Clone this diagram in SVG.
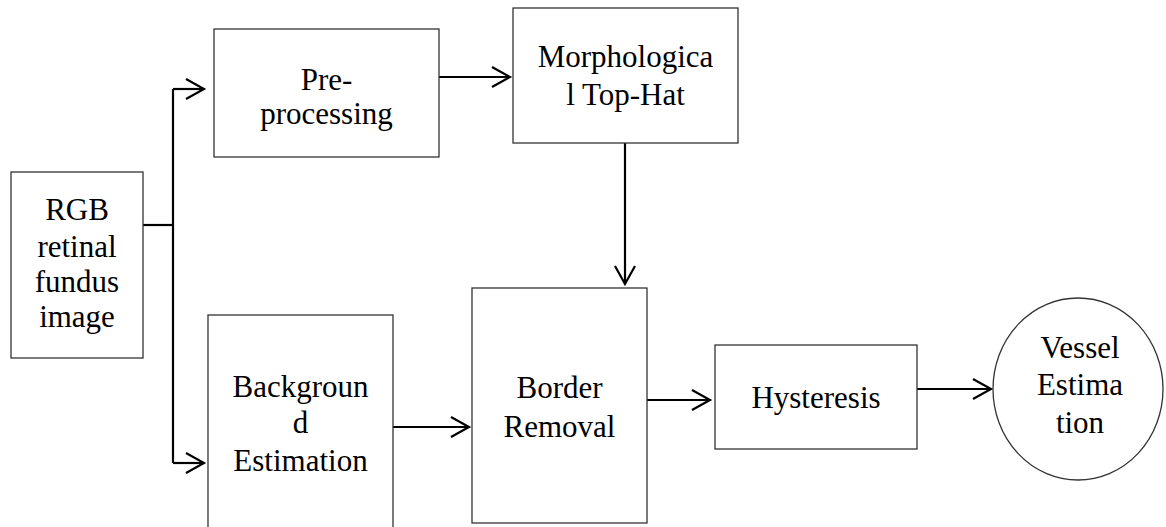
<svg xmlns="http://www.w3.org/2000/svg" width="1166" height="527" viewBox="0 0 1166 527">
<style>
.box{fill:#fff;stroke:#333;stroke-width:1.3}
.t{font-family:"Liberation Serif","Times New Roman",serif;font-size:31px;fill:#000;text-anchor:middle}
.c{fill:none;stroke:#000;stroke-width:2.2}
</style>
<defs>
<marker id="ah" markerUnits="userSpaceOnUse" markerWidth="24" markerHeight="26" refX="19" refY="11" orient="auto">
<path d="M1,1 L19,11 L1,21" fill="none" stroke="#000" stroke-width="2.2"/>
</marker>
</defs>
<rect width="1166" height="527" fill="#fff"/>
<g id="connectors">
<path class="c" d="M143,225 H173"/>
<path class="c" d="M173,89 V463"/>
<path class="c" d="M173,89 H204" marker-end="url(#ah)"/>
<path class="c" d="M173,463 H204" marker-end="url(#ah)"/>
<path class="c" d="M439,77 H510" marker-end="url(#ah)"/>
<path class="c" d="M625,143 V284" marker-end="url(#ah)"/>
<path class="c" d="M393,427 H469" marker-end="url(#ah)"/>
<path class="c" d="M647,400 H710" marker-end="url(#ah)"/>
<path class="c" d="M917,389 H991" marker-end="url(#ah)"/>
</g>
<g id="rgb">
<rect class="box" x="11" y="172" width="132" height="186"/>
<text class="t" x="77" y="220">RGB</text>
<text class="t" x="77" y="257">retinal</text>
<text class="t" x="77" y="292">fundus</text>
<text class="t" x="77" y="327">image</text>
</g>
<g id="preprocessing">
<rect class="box" x="214" y="29" width="225" height="128"/>
<text class="t" x="326.5" y="90">Pre-</text>
<text class="t" x="326.5" y="124">processing</text>
</g>
<g id="morph">
<rect class="box" x="513" y="8" width="225" height="135"/>
<text class="t" x="625.5" y="67">Morphologica</text>
<text class="t" x="625.5" y="105">l Top-Hat</text>
</g>
<g id="background">
<rect class="box" x="208" y="315" width="185" height="230"/>
<text class="t" x="300.5" y="397">Backgroun</text>
<text class="t" x="300.5" y="433">d</text>
<text class="t" x="300.5" y="471">Estimation</text>
</g>
<g id="border">
<rect class="box" x="472" y="288" width="175" height="235"/>
<text class="t" x="559.5" y="398">Border</text>
<text class="t" x="559.5" y="437">Removal</text>
</g>
<g id="hysteresis">
<rect class="box" x="715" y="345" width="202" height="104"/>
<text class="t" x="816" y="408">Hysteresis</text>
</g>
<g id="vessel">
<ellipse cx="1078" cy="389" rx="85" ry="91" fill="#fff" stroke="#333" stroke-width="1.3"/>
<text class="t" x="1080" y="358">Vessel</text>
<text class="t" x="1080" y="395">Estima</text>
<text class="t" x="1080" y="433">tion</text>
</g>
</svg>
